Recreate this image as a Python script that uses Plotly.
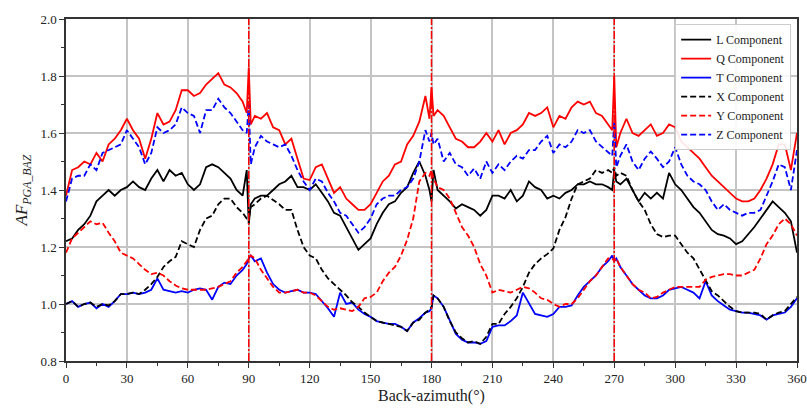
import plotly.graph_objects as go

# Back-azimuth sample positions (3° grid plus narrow points around 90/180/270)
BAZ = sorted(list(range(0, 361, 3)) + [89, 91, 179, 181, 269, 271])

L_comp = [1.22, 1.23, 1.26, 1.28, 1.31, 1.36, 1.38, 1.40, 1.38, 1.40,
          1.41, 1.43, 1.41, 1.40, 1.44, 1.47, 1.43, 1.47, 1.45, 1.46,
          1.42, 1.40, 1.42, 1.48, 1.49, 1.48, 1.46, 1.44, 1.40, 1.38,
          1.47, 1.28, 1.35,
          1.37, 1.38, 1.38, 1.40, 1.42, 1.43, 1.45, 1.41, 1.41, 1.40,
          1.42, 1.39, 1.36, 1.32, 1.31, 1.27, 1.23, 1.19, 1.21, 1.23,
          1.28, 1.32, 1.35, 1.36, 1.39, 1.41, 1.46, 1.50, 1.45,
          1.40, 1.36, 1.47,
          1.40, 1.38, 1.36, 1.335, 1.35, 1.34, 1.33, 1.31, 1.33, 1.38,
          1.38, 1.37, 1.40, 1.36, 1.38, 1.43, 1.41, 1.40, 1.37, 1.38,
          1.37, 1.39, 1.40, 1.42, 1.42, 1.43, 1.42, 1.42, 1.41,
          1.40, 1.47, 1.43,
          1.42, 1.44, 1.40, 1.36, 1.39, 1.37, 1.39, 1.37, 1.46, 1.42,
          1.40, 1.37, 1.34, 1.32, 1.29, 1.26, 1.245, 1.24, 1.23, 1.21,
          1.22, 1.245, 1.27, 1.30, 1.33, 1.36, 1.34, 1.32, 1.29, 1.18]

Q_comp = [1.38, 1.47, 1.48, 1.50, 1.49, 1.53, 1.50, 1.56, 1.58, 1.61,
          1.65, 1.61, 1.58, 1.51, 1.58, 1.67, 1.63, 1.64, 1.68, 1.75,
          1.75, 1.73, 1.74, 1.77, 1.79, 1.81, 1.77, 1.76, 1.74, 1.71,
          1.67, 1.83, 1.63,
          1.66, 1.65, 1.67, 1.62, 1.61, 1.56, 1.58, 1.51, 1.44, 1.435,
          1.48, 1.49, 1.44, 1.39, 1.41, 1.37, 1.35, 1.33, 1.33, 1.35,
          1.39, 1.43, 1.45, 1.49, 1.50, 1.56, 1.59, 1.64, 1.73,
          1.65, 1.76, 1.66,
          1.68, 1.66, 1.62, 1.58, 1.57, 1.55, 1.55, 1.57, 1.60, 1.57,
          1.61, 1.56, 1.60, 1.61, 1.63, 1.67, 1.66, 1.67, 1.69, 1.62,
          1.66, 1.65, 1.69, 1.71, 1.70, 1.71, 1.67, 1.66, 1.63,
          1.61, 1.80, 1.55,
          1.60, 1.65, 1.60, 1.59, 1.61, 1.63, 1.59, 1.60, 1.63, 1.62,
          1.57, 1.55, 1.53, 1.51, 1.48, 1.45, 1.43, 1.41, 1.39, 1.37,
          1.36, 1.36, 1.37, 1.40, 1.44, 1.49, 1.56, 1.56, 1.47, 1.60]

T_comp = [1.00, 1.01, 0.99, 1.00, 1.005, 0.985, 1.00, 0.99, 1.01, 1.035,
          1.035, 1.04, 1.035, 1.04, 1.05, 1.09, 1.05, 1.045, 1.04, 1.045,
          1.04, 1.05, 1.055, 1.05, 1.015, 1.06, 1.075, 1.07, 1.10, 1.12,
          1.14, 1.16, 1.17,
          1.15, 1.16, 1.11, 1.07, 1.05, 1.04, 1.045, 1.05, 1.04, 1.04,
          1.035, 1.01, 0.985, 0.955, 1.04, 1.00, 1.005, 0.98, 0.965, 0.955,
          0.94, 0.935, 0.93, 0.93, 0.92, 0.905, 0.935, 0.95, 0.97,
          0.975, 0.985, 1.03,
          1.02, 0.99, 0.94, 0.895, 0.875, 0.865, 0.865, 0.86, 0.87, 0.92,
          0.925, 0.925, 0.94, 0.96, 1.04, 1.00, 0.965, 0.96, 0.955, 0.965,
          0.99, 0.99, 0.995, 1.03, 1.06, 1.08, 1.10, 1.13, 1.15,
          1.17, 1.15, 1.16,
          1.13, 1.10, 1.07, 1.05, 1.03, 1.02, 1.02, 1.03, 1.05, 1.055,
          1.06, 1.05, 1.04, 1.02, 1.08, 1.03, 1.01, 0.995, 0.98, 0.975,
          0.97, 0.97, 0.965, 0.96, 0.945, 0.96, 0.965, 0.97, 0.99, 1.02]

X_comp = [1.00, 1.01, 0.99, 1.00, 1.005, 0.99, 1.00, 0.995, 1.01, 1.035,
          1.035, 1.04, 1.035, 1.05, 1.07, 1.095, 1.13, 1.15, 1.165, 1.22,
          1.21, 1.20, 1.26, 1.30, 1.31, 1.35, 1.37, 1.37, 1.34, 1.32,
          1.30, 1.30, 1.34,
          1.35, 1.37, 1.38, 1.365, 1.35, 1.33, 1.33, 1.26, 1.20, 1.17,
          1.16, 1.12, 1.09, 1.07, 1.05, 1.03, 1.006, 0.99, 0.97, 0.955,
          0.94, 0.935, 0.93, 0.925, 0.92, 0.905, 0.935, 0.945, 0.97,
          0.98, 0.99, 1.03,
          1.02, 0.99, 0.94, 0.90, 0.88, 0.865, 0.87, 0.86, 0.885, 0.93,
          0.93, 0.965, 0.99, 1.02, 1.06, 1.11, 1.14, 1.16, 1.175, 1.195,
          1.26, 1.305, 1.37, 1.42, 1.43, 1.44, 1.47, 1.46, 1.47,
          1.46, 1.48, 1.45,
          1.46, 1.45, 1.40, 1.36, 1.33, 1.28, 1.245, 1.235, 1.24, 1.24,
          1.21, 1.18, 1.16, 1.12, 1.08, 1.045, 1.03, 1.01, 0.99, 0.975,
          0.97, 0.97, 0.97, 0.965, 0.945, 0.96, 0.97, 0.975, 1.00, 1.025]

Y_comp = [1.18, 1.23, 1.25, 1.27, 1.29, 1.28, 1.285, 1.25, 1.22, 1.18,
          1.17, 1.16, 1.14, 1.12, 1.105, 1.11, 1.10, 1.08, 1.065, 1.055,
          1.05, 1.05, 1.05, 1.05, 1.055, 1.06, 1.07, 1.08, 1.11, 1.13,
          1.15, 1.16, 1.17,
          1.16, 1.12, 1.09, 1.06, 1.04, 1.04, 1.045, 1.05, 1.04, 1.04,
          1.03, 1.01, 0.99, 0.98, 0.985, 0.98, 0.975, 0.99, 1.02, 1.025,
          1.04, 1.08, 1.11, 1.13, 1.17, 1.225, 1.30, 1.43, 1.46,
          1.45, 1.47, 1.44,
          1.41, 1.40, 1.37, 1.32, 1.27, 1.24, 1.20, 1.14, 1.10, 1.04,
          1.05, 1.045, 1.04, 1.05, 1.06, 1.055, 1.04, 1.02, 1.015, 1.00,
          0.99, 1.00, 1.00, 1.02, 1.05, 1.08, 1.10, 1.13, 1.16,
          1.16, 1.15, 1.16,
          1.13, 1.10, 1.07, 1.05, 1.04, 1.02, 1.025, 1.04, 1.05, 1.06,
          1.06, 1.06, 1.06, 1.06, 1.085, 1.095, 1.10, 1.105, 1.105, 1.10,
          1.10, 1.11, 1.12, 1.16, 1.21, 1.24, 1.28, 1.30, 1.28, 1.24]

Z_comp = [1.36, 1.44, 1.45, 1.45, 1.49, 1.47, 1.53, 1.54, 1.55, 1.56,
          1.61, 1.58, 1.55, 1.49, 1.53, 1.62, 1.60, 1.61, 1.63, 1.69,
          1.67, 1.66, 1.60, 1.68, 1.68, 1.72, 1.69, 1.67, 1.64, 1.61,
          1.60, 1.70, 1.49,
          1.55, 1.59, 1.57, 1.56, 1.55, 1.56, 1.52, 1.47, 1.43, 1.40,
          1.44, 1.43, 1.39, 1.36, 1.32, 1.31, 1.28, 1.25, 1.27, 1.30,
          1.35, 1.37, 1.38, 1.38, 1.40, 1.41, 1.44, 1.50, 1.61,
          1.57, 1.60, 1.56,
          1.58, 1.50, 1.53, 1.49, 1.48, 1.45, 1.475, 1.44, 1.50, 1.46,
          1.49, 1.47, 1.50, 1.52, 1.51, 1.54, 1.54, 1.57, 1.59, 1.53,
          1.56, 1.55, 1.57, 1.61, 1.60, 1.61, 1.57, 1.55, 1.53,
          1.52, 1.64, 1.48,
          1.52, 1.56, 1.50, 1.47, 1.51, 1.535, 1.51, 1.48, 1.50, 1.55,
          1.49, 1.45, 1.43, 1.42, 1.40, 1.36, 1.33, 1.35, 1.33, 1.32,
          1.31, 1.32, 1.32, 1.33, 1.38, 1.43, 1.49, 1.48, 1.40, 1.54]

REF_LINES = [90, 180, 270]

series = [
    ("L Component", L_comp, "#000000", "solid"),
    ("Q Component", Q_comp, "#ff0000", "solid"),
    ("T Component", T_comp, "#0000ff", "solid"),
    ("X Component", X_comp, "#000000", "6px,3px"),
    ("Y Component", Y_comp, "#ff0000", "6px,3px"),
    ("Z Component", Z_comp, "#0000ff", "6px,3px"),
]

FONT = "Liberation Serif, Times New Roman, serif"

fig = go.Figure()
for name, vals, color, dash in series:
    fig.add_trace(go.Scatter(x=BAZ, y=vals, mode="lines", name=name,
                             line=dict(color=color, width=1.8, dash=dash)))

for xv in REF_LINES:
    fig.add_shape(type="line", xref="x", yref="paper", x0=xv, x1=xv, y0=0, y1=1,
                  line=dict(color="#ff0000", width=1.5, dash="8px,2px,2px,2px"))

axis_common = dict(showline=True, linecolor="#333333", linewidth=1.5, mirror=True,
                   ticks="outside", ticklen=5, tickwidth=1.2, tickcolor="#333333",
                   showgrid=True, gridcolor="#c4c4c4", gridwidth=1.5, zeroline=False,
                   automargin=False,
                   tickfont=dict(family=FONT, size=13, color="#222222"))

fig.update_xaxes(range=[0, 360], dtick=30, tick0=0,
                 minor=dict(dtick=15, ticks="outside", ticklen=3, tickcolor="#333333", showgrid=False),
                 title=dict(text="Back-azimuth(°)", font=dict(family=FONT, size=16, color="#222222"), standoff=4),
                 **axis_common)
fig.update_yaxes(range=[0.8, 2.0], dtick=0.2, tick0=0.8, tickformat=".1f",
                 minor=dict(dtick=0.1, ticks="outside", ticklen=3, tickcolor="#333333", showgrid=False),
                 title=dict(text="<i>AF<sub>PGA_BAZ</sub></i>", font=dict(family=FONT, size=17, color="#222222"), standoff=8),
                 **axis_common)

fig.update_layout(
    width=807, height=409,
    margin=dict(l=66, r=10, t=19, b=48),
    paper_bgcolor="white", plot_bgcolor="white",
    font=dict(family=FONT, color="#222222"),
    legend=dict(x=0.992, y=0.985, xanchor="right", yanchor="top",
                bgcolor="rgba(255,255,255,0.9)", bordercolor="#cccccc", borderwidth=1,
                font=dict(family=FONT, size=12, color="#222222"),
                tracegroupgap=0, itemwidth=30),
    showlegend=True,
)

fig.write_html("out.html")
